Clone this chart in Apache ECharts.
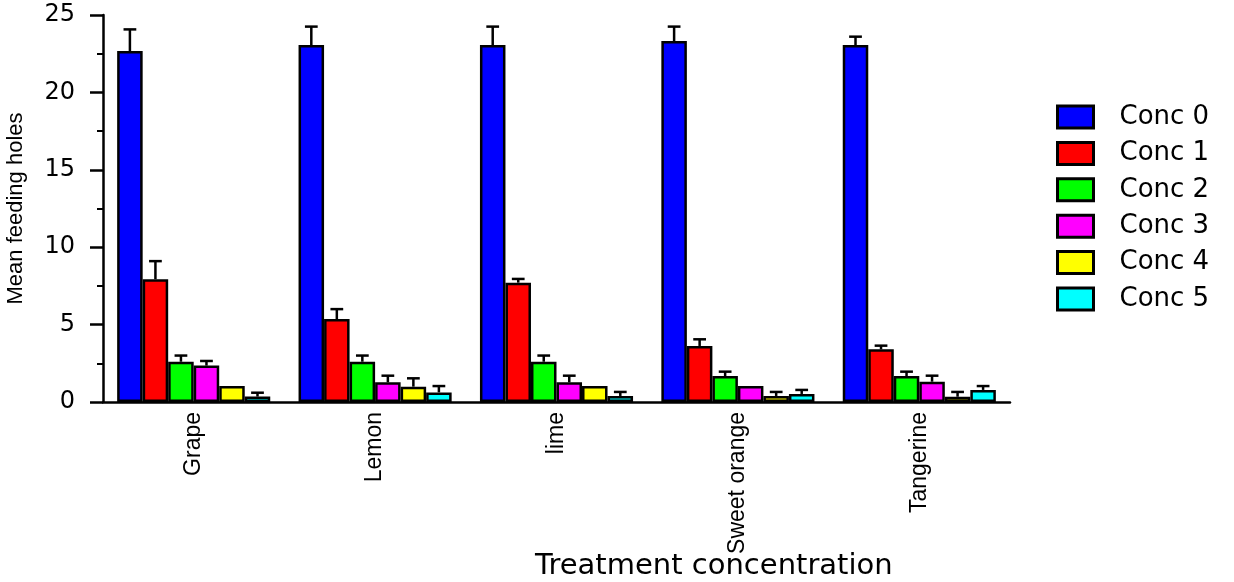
<!DOCTYPE html>
<html>
<head>
<meta charset="utf-8">
<script src="https://cdn.jsdelivr.net/npm/echarts@6/dist/echarts.min.js"></script>
<style>html,body{margin:0;padding:0;background:#fff;}#c{width:1234px;height:582px;}</style>
</head>
<body>
<div id="c"></div>
<script>
const categories = ['Grape', 'Lemon', 'lime', 'Sweet orange', 'Tangerine'];
const seriesNames = ['Conc 0', 'Conc 1', 'Conc 2', 'Conc 3', 'Conc 4', 'Conc 5'];
const colors = ['#0000ff', '#ff0000', '#00ff00', '#ff00ff', '#ffff00', '#00ffff'];
// mean values per concentration, in category order
const conc0 = [22.67, 23.06, 23.06, 23.32, 23.06];
const conc1 = [7.93, 5.36, 7.71, 3.62, 3.40];
const conc2 = [2.60, 2.60, 2.60, 1.68, 1.68];
const conc3 = [2.35, 1.27, 1.27, 1.03, 1.31];
const conc4 = [1.03, 0.99, 1.03, 0.39, 0.34];
const conc5 = [0.35, 0.62, 0.39, 0.52, 0.78];
// upper error (standard error) per concentration
const err0 = [1.40, 1.19, 1.19, 0.93, 0.54];
const err1 = [1.17, 0.64, 0.24, 0.43, 0.24];
const err2 = [0.40, 0.40, 0.40, 0.28, 0.28];
const err3 = [0.30, 0.43, 0.43, 0.00, 0.39];
const err4 = [0.00, 0.54, 0.00, 0.26, 0.31];
const err5 = [0.25, 0.41, 0.26, 0.26, 0.25];
const yTicks = [0, 5, 10, 15, 20, 25];

const means = [conc0, conc1, conc2, conc3, conc4, conc5];
const errs = [err0, err1, err2, err3, err4, err5];
const catGap = 0.156;

const errData = [];
means.forEach((arr, j) => arr.forEach((v, i) => {
  errData.push([i, v, v + errs[j][i], j]);
}));

const barSeries = means.map((arr, j) => ({
  name: seriesNames[j],
  type: 'bar',
  data: arr,
  barGap: '0%',
  barCategoryGap: (catGap * 100) + '%',
  itemStyle: { color: colors[j], borderColor: '#000', borderWidth: 2.5 },
  emphasis: { disabled: true },
  animation: false
}));

const errSeries = {
  name: 'errors',
  type: 'custom',
  data: errData,
  encode: { x: 0, y: 2 },
  z: 5,
  animation: false,
  renderItem: function (params, api) {
    const cat = api.value(0), mean = api.value(1), up = api.value(2), j = api.value(3);
    if (up - mean < 0.01) return null;
    const band = api.size([1, 0])[0];
    const bw = band * (1 - catGap) / 6;
    const cx = api.coord([cat, 0])[0] - band * (1 - catGap) / 2 + bw * (j + 0.5);
    const y0 = api.coord([cat, mean])[1];
    const y1 = api.coord([cat, up])[1];
    const half = bw * 0.25;
    const st = { stroke: '#000', lineWidth: 2.5 };
    return {
      type: 'group',
      children: [
        { type: 'line', shape: { x1: cx, y1: y0, x2: cx, y2: y1 }, style: st },
        { type: 'line', shape: { x1: cx - half, y1: y1, x2: cx + half, y2: y1 }, style: st }
      ]
    };
  }
};

const chart = echarts.init(document.getElementById('c'));
chart.setOption({
  backgroundColor: '#fff',
  animation: false,
  textStyle: { fontFamily: 'Liberation Sans' },
  grid: { left: 103, right: 224, top: 15, bottom: 180, containLabel: false, outerBoundsMode: 'none' },
  legend: {
    data: seriesNames,
    orient: 'vertical',
    left: 1051,
    top: 99,
    icon: 'rect',
    itemWidth: 36,
    itemHeight: 22,
    itemGap: 10.4,
    selectedMode: false,
    itemStyle: { borderColor: '#000', borderWidth: 3 },
    textStyle: { fontFamily: 'DejaVu Sans', fontSize: 26, lineHeight: 22, color: '#000', padding: [0, 0, 0, 21] }
  },
  xAxis: {
    type: 'category',
    data: categories,
    axisLine: { lineStyle: { color: '#000', width: 2.5 } },
    axisTick: { alignWithLabel: true, length: 7, lineStyle: { color: '#000', width: 2.5 } },
    axisLabel: { rotate: 90, margin: 10, fontSize: 23, color: '#000', fontFamily: 'Liberation Sans' },
    splitLine: { show: false }
  },
  yAxis: {
    type: 'value',
    min: 0,
    max: 25,
    interval: 5,
    name: 'Mean feeding holes',
    nameLocation: 'middle',
    nameGap: 76,
    nameTextStyle: { fontSize: 22, color: '#000', fontFamily: 'Liberation Sans' },
    axisLine: { show: true, lineStyle: { color: '#000', width: 2.5 } },
    axisTick: { show: true, length: 13, lineStyle: { color: '#000', width: 2.5 } },
    minorTick: { show: true, splitNumber: 2, length: 6, lineStyle: { color: '#000', width: 2 } },
    axisLabel: { margin: 28, fontSize: 24, color: '#000', fontFamily: 'DejaVu Sans',
      formatter: v => yTicks.indexOf(v) >= 0 ? String(v) : '' },
    splitLine: { show: false }
  },
  graphic: [{
    type: 'text',
    left: 535,
    top: 552,
    style: { text: 'Treatment concentration', font: '29px "DejaVu Sans"', fill: '#000' }
  }],
  series: barSeries.concat([errSeries])
});
</script>
</body>
</html>
